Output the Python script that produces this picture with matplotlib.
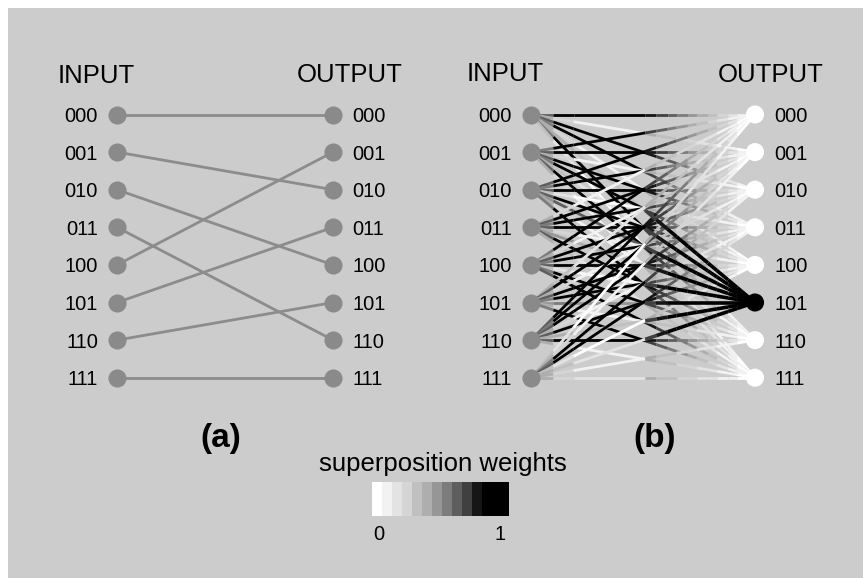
import matplotlib
matplotlib.use("Agg")
import matplotlib.pyplot as plt
from matplotlib.collections import LineCollection
from matplotlib.colors import ListedColormap, BoundaryNorm
from matplotlib.colorbar import ColorbarBase
from matplotlib.patches import Rectangle

plt.rcParams["font.family"] = ["Liberation Sans", "DejaVu Sans"]

# ---- data ----
states = ["000", "001", "010", "011", "100", "101", "110", "111"]

# panel (a): permutation input -> output
perm_out = [0, 2, 4, 6, 1, 3, 5, 7]

# panel (b): marked output state
target = 5

# time steps along each line (fraction of the way from input to output)
step_edges = [0, 0.10, 0.19, 0.51, 0.56, 0.61, 0.65, 0.70,
              0.74, 0.79, 0.83, 0.88, 0.92, 0.97, 1.0]

# weights in the main (black/white) step, row = input, col = output
mid_weights = [
    [1.0, 0.1, 1.0, 0.9, 0.1, 0.3, 0.9, 0.05],
    [0.9, 1.0, 0.1, 1.0, 0.9, 0.2, 1.0, 0.1],
    [1.0, 0.9, 1.0, 0.05, 1.0, 0.6, 0.1, 0.9],
    [0.1, 1.0, 0.9, 1.0, 0.1, 0.4, 1.0, 0.2],
    [0.9, 0.1, 1.0, 0.9, 1.0, 0.05, 0.9, 1.0],
    [0.2, 1.0, 0.1, 1.0, 0.9, 0.5, 0.1, 0.9],
    [1.0, 0.9, 1.0, 0.1, 1.0, 0.3, 1.0, 0.1],
    [0.05, 0.1, 0.9, 1.0, 0.05, 0.2, 0.1, 0.15],
]

# first two steps near the inputs
early_low = [0.35, 0.15]
early_high = [0.6, 0.95]

# fading steps after the main step, for the other outputs
fade_high = [0.75, 0.68, 0.6, 0.52, 0.45, 0.38, 0.3, 0.22, 0.15, 0.08, 0.04]
fade_low = [0.35, 0.3, 0.27, 0.24, 0.2, 0.17, 0.14, 0.1, 0.07, 0.04, 0.02]

# steps after the main step for lines into the marked output
target_rise = [0.7, 0.8, 0.9, 1.0, 1.0, 1.0, 1.0, 1.0, 1.0, 1.0, 1.0]

# discrete grey levels of the weight scale
level_colors = ["#ffffff", "#f2f2f2", "#e3e3e3", "#d5d5d5", "#c0c0c0",
                "#aeaeae", "#969696", "#7c7c7c", "#5e5e5e", "#404040",
                "#161616", "#000000"]
level_bounds = [0, 0.073, 0.146, 0.219, 0.292, 0.365, 0.438, 0.511,
                0.584, 0.657, 0.730, 0.803, 1.0]

cmap = ListedColormap(level_colors)
norm = BoundaryNorm(level_bounds, cmap.N)

node_grey = "#8a8a8a"
line_grey = "#8c8c8c"

fig = plt.figure(figsize=(8.63, 5.78), dpi=100)
ax = fig.add_axes([0, 0, 1, 1])
ax.set_xlim(0, 863)
ax.set_ylim(578, 0)
ax.axis("off")

ax.add_patch(Rectangle((8, 8), 855, 570, facecolor="#cccccc",
                       edgecolor="none", zorder=0))

y0 = 114.5
dy = 37.6
ys = [y0 + k * dy for k in range(len(states))]

label_fs = 14.5
head_fs = 18.5

# ---- panel (a) ----
ax_in, ax_out = 117, 333
for i, j in enumerate(perm_out):
    ax.plot([ax_in, ax_out], [ys[i], ys[j]], color=line_grey, lw=2,
            solid_capstyle="butt", zorder=2)
ax.scatter([ax_in] * 8, ys, s=170, color=node_grey, zorder=3, lw=0)
ax.scatter([ax_out] * 8, ys, s=170, color=node_grey, zorder=3, lw=0)
for k, s in enumerate(states):
    ax.text(98, ys[k] + 7.5, s, ha="right", va="baseline", fontsize=label_fs)
    ax.text(352, ys[k] + 7.5, s, ha="left", va="baseline", fontsize=label_fs)
ax.text(58, 83, "INPUT", ha="left", va="baseline", fontsize=head_fs)
ax.text(297, 82, "OUTPUT", ha="left", va="baseline", fontsize=head_fs)
ax.text(221, 447, "(a)", ha="center", va="baseline", fontsize=24,
        fontweight="bold")

# ---- panel (b) ----
bx_in, bx_out = 531, 755
span = bx_out - bx_in


def line_weights(i, j):
    m = mid_weights[i][j]
    w = [lo + (hi - lo) * m for lo, hi in zip(early_low, early_high)]
    w.append(m)
    if j == target:
        w += target_rise
    else:
        w += [lo + (hi - lo) * m for lo, hi in zip(fade_low, fade_high)]
    return w


under_segs, under_vals = [], []
top_segs, top_vals = [], []
for i in range(8):
    for j in range(8):
        w = line_weights(i, j)
        for k in range(len(step_edges) - 1):
            f0, f1 = step_edges[k], step_edges[k + 1]
            p0 = (bx_in + f0 * span, ys[i] + f0 * (ys[j] - ys[i]))
            p1 = (bx_in + f1 * span, ys[i] + f1 * (ys[j] - ys[i]))
            if j == target and k >= 3:
                top_segs.append([p0, p1])
                top_vals.append(w[k])
            else:
                under_segs.append([p0, p1])
                under_vals.append(w[k])

lc = LineCollection(under_segs, cmap=cmap, norm=norm, linewidths=2.0,
                    capstyle="butt", zorder=2)
lc.set_array(under_vals)
ax.add_collection(lc)
lc_top = LineCollection(top_segs, cmap=cmap, norm=norm, linewidths=2.6,
                        capstyle="butt", zorder=2.5)
lc_top.set_array(top_vals)
ax.add_collection(lc_top)

ax.scatter([bx_in] * 8, ys, s=170, color=node_grey, zorder=3, lw=0)
out_colors = ["black" if k == target else "white" for k in range(8)]
ax.scatter([bx_out] * 8, ys, s=170, color=out_colors, zorder=3, lw=0)
for k, s in enumerate(states):
    ax.text(512, ys[k] + 7.5, s, ha="right", va="baseline", fontsize=label_fs)
    ax.text(774, ys[k] + 7.5, s, ha="left", va="baseline", fontsize=label_fs)
ax.text(505, 81, "INPUT", ha="center", va="baseline", fontsize=head_fs)
ax.text(771, 82, "OUTPUT", ha="center", va="baseline", fontsize=head_fs)
ax.text(655, 447, "(b)", ha="center", va="baseline", fontsize=24,
        fontweight="bold")

# ---- weight scale ----
ax.text(443, 471.5, "superposition weights", ha="center", va="baseline",
        fontsize=head_fs)
cax = fig.add_axes([372 / 863, (578 - 516) / 578, 137 / 863, 34 / 578])
cb = ColorbarBase(cax, cmap=cmap, norm=norm, orientation="horizontal",
                  spacing="proportional")
cb.outline.set_visible(False)
cb.set_ticks([])
cb.minorticks_off()
cax.tick_params(which="both", length=0, labelbottom=False)
ax.text(379, 540, "0", ha="center", va="baseline", fontsize=label_fs)
ax.text(500, 540, "1", ha="center", va="baseline", fontsize=label_fs)

fig.savefig("out.png", dpi=100)
plt.close(fig)
